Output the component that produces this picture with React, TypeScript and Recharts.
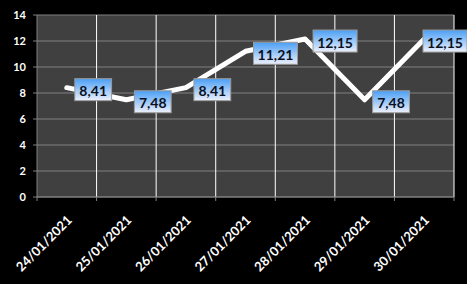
import { LineChart, Line, XAxis, YAxis, CartesianGrid, LabelList } from "recharts";

const dates = ["24/01/2021", "25/01/2021", "26/01/2021", "27/01/2021", "28/01/2021", "29/01/2021", "30/01/2021"];
const prices = [8.41, 7.48, 8.41, 11.21, 12.15, 7.48, 12.15];
const yTicks = [0, 2, 4, 6, 8, 10, 12, 14];

const WIDTH = 467;
const HEIGHT = 284;
const MARGIN = { top: 15, right: 13, left: 0, bottom: 0 };
const Y_W = 37;
const X_H = 87;
const BAND = (WIDTH - MARGIN.left - MARGIN.right - Y_W) / dates.length;
const FONT = "Lato, 'Open Sans', sans-serif";

const data = dates.map((date, i) => ({ date, value: prices[i] }));

const fmt = (v: number) => v.toFixed(2).replace(".", ",");

const XTick = (props: any) => {
  const { x, y, payload, index } = props;
  const last = index === dates.length - 1;
  const ax = x + 6;
  const ay = y + 20;
  return (
    <g>
      <line x1={x - BAND / 2} x2={x - BAND / 2} y1={y - 4} y2={y} stroke="#808080" />
      {last && <line x1={x + BAND / 2} x2={x + BAND / 2} y1={y - 4} y2={y} stroke="#808080" />}
      <text
        x={ax}
        y={ay}
        transform={`rotate(-45, ${ax}, ${ay})`}
        textAnchor="end"
        fill="#ffffff"
        fontSize={13}
        fontWeight={700}
        fontFamily={FONT}
      >
        {payload.value}
      </text>
    </g>
  );
};

const ValueLabel = (props: any) => {
  const { x, y, value } = props;
  const text = fmt(value);
  const w = text.length * 7.2 + 8;
  const h = 22;
  // keep the box inside the chart, like excel does for the last point
  const bx = Math.min(x + 8, WIDTH - w);
  return (
    <g>
      <rect x={bx} y={y - h / 2 + 2} width={w} height={h} fill="url(#lblGrad)" stroke="#9a9a9a" />
      <text
        x={bx + w / 2}
        y={y + 3}
        textAnchor="middle"
        dominantBaseline="central"
        fill="#0a1020"
        fontSize={14}
        fontWeight={700}
        fontFamily={FONT}
      >
        {text}
      </text>
    </g>
  );
};

export default function App() {
  return (
    <div style={{ width: WIDTH, height: HEIGHT, background: "#000" }}>
      <style>{"body{margin:0}"}</style>
      <LineChart width={WIDTH} height={HEIGHT} data={data} margin={MARGIN}>
        <defs>
          <linearGradient id="lblGrad" x1="0" y1="0" x2="0" y2="1">
            <stop offset="0%" stopColor="#4a9ff5" />
            <stop offset="100%" stopColor="#eef0fb" />
          </linearGradient>
        </defs>
        <CartesianGrid vertical={false} stroke="#808080" fill="#404040" />
        <CartesianGrid
          horizontal={false}
          stroke="#ffffff"
          verticalCoordinatesGenerator={({ offset }: any) =>
            dates.map((_, i) => offset.left + ((i + 1) * offset.width) / dates.length)
          }
        />
        <XAxis
          dataKey="date"
          scale="band"
          height={X_H}
          interval={0}
          tickLine={false}
          tickSize={4}
          tickMargin={0}
          axisLine={{ stroke: "#808080" }}
          tick={<XTick />}
        />
        <YAxis
          domain={[0, 14]}
          ticks={yTicks}
          width={Y_W}
          tickSize={4}
          tickMargin={7}
          axisLine={{ stroke: "#808080" }}
          tickLine={{ stroke: "#808080" }}
          tick={{ fill: "#ffffff", fontSize: 11, fontWeight: 700, fontFamily: FONT }}
        />
        <Line
          dataKey="value"
          type="linear"
          stroke="#ffffff"
          strokeWidth={5}
          strokeLinecap="round"
          strokeLinejoin="round"
          dot={false}
          activeDot={false}
          isAnimationActive={false}
        >
          <LabelList dataKey="value" content={<ValueLabel />} />
        </Line>
      </LineChart>
    </div>
  );
}
